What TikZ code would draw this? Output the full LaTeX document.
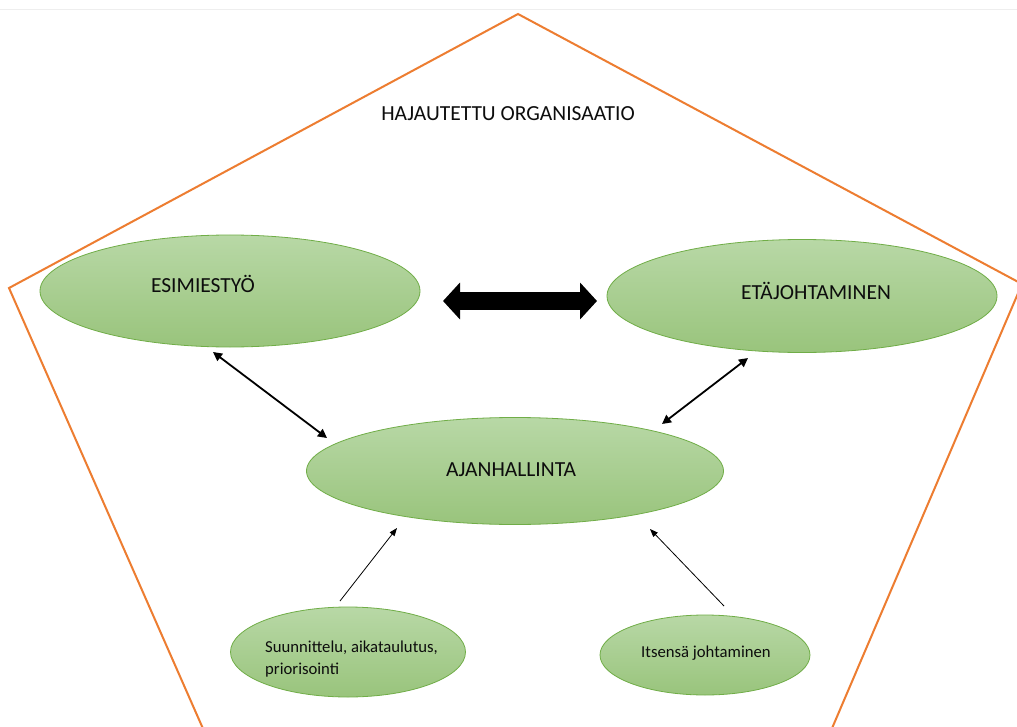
\documentclass[tikz,border=0pt]{standalone}
\usepackage{fontspec}
\setmainfont{Carlito}
\usetikzlibrary{arrows.meta,shapes.geometric}
\definecolor{penta}{RGB}{237,125,49}
\definecolor{elltop}{RGB}{184,216,166}
\definecolor{ellbot}{RGB}{153,196,124}
\definecolor{ellborder}{RGB}{112,173,71}
\definecolor{txt}{RGB}{13,13,13}
\definecolor{topline}{RGB}{238,238,238}
\begin{document}
\begin{tikzpicture}[x=1bp,y=-1bp,
  bubble/.style={ellipse, draw=ellborder, line width=0.8bp, top color=elltop, bottom color=ellbot, inner sep=0pt},
  bigtext/.style={font=\fontsize{21.5bp}{26bp}\selectfont, text=txt, inner sep=0pt, anchor=base},
  smalltext/.style={font=\fontsize{16.7bp}{22bp}\selectfont, text=txt, inner sep=0pt},
  medarrow/.style={line width=1.8bp, {Triangle[length=9bp,width=9bp]}-{Triangle[length=9bp,width=9bp]}},
  thinarrow/.style={line width=0.8bp, -{Triangle[length=8bp,width=6bp]}},
  bigarrow/.style={line width=18bp, {Triangle[length=17bp,width=36bp]}-{Triangle[length=17bp,width=36bp]}}
]
\useasboundingbox (0,0) rectangle (1017,727);
\fill[white] (0,0) rectangle (1017,727);
\draw[topline, line width=1bp] (0,10) -- (1017,10);
\begin{scope}
  \clip (0,0) rectangle (1017,727);
  \draw[penta, line width=2bp, line join=miter] (208,740) -- (9,288) -- (518,14) -- (1022,284) -- (827,740);
\end{scope}

\node[bigtext] (title) at (508,121) {HAJAUTETTU ORGANISAATIO};

\node[bubble, minimum width=380bp, minimum height=112bp] (esi) at (230,291) {};
\node[bubble, minimum width=390bp, minimum height=113bp] (eta) at (802,296) {};
\node[bubble, minimum width=417bp, minimum height=107bp] (aja) at (515,471) {};
\node[bubble, minimum width=235bp, minimum height=90bp] (suu) at (348,652) {};
\node[bubble, minimum width=210bp, minimum height=80bp] (its) at (705,655) {};

\node[bigtext] (esit) at (203,292) {ESIMIESTYÖ};
\node[bigtext] (etat) at (816,299) {ETÄJOHTAMINEN};
\node[bigtext] (ajat) at (511,476) {AJANHALLINTA};
\node[smalltext, align=left, anchor=west] (suut) at (265,659) {Suunnittelu, aikataulutus,\\priorisointi};
\node[smalltext, anchor=base] (itst) at (706,657) {Itsensä johtaminen};

\coordinate (bl) at (443,301);
\coordinate (br) at (597,301);
\draw[bigarrow] (bl) -- (br);

\coordinate (e1) at (213,352);
\coordinate (a1) at (327,438);
\draw[medarrow] (e1) -- (a1);

\coordinate (t1) at (748,358);
\coordinate (a2) at (662,424);
\draw[medarrow] (t1) -- (a2);

\coordinate (s1) at (340,601);
\coordinate (a3) at (397,528);
\draw[thinarrow] (s1) -- (a3);

\coordinate (i1) at (724,606);
\coordinate (a4) at (650,529);
\draw[thinarrow] (i1) -- (a4);
\end{tikzpicture}
\end{document}
